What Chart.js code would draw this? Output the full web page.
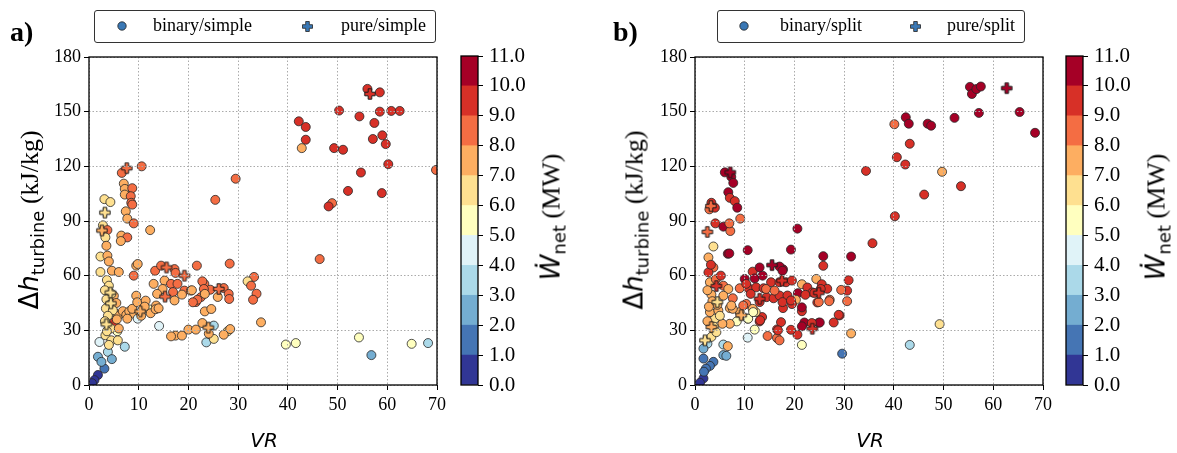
<!DOCTYPE html>
<html lang="en">
<head>
<meta charset="UTF-8">
<title>VR vs turbine enthalpy drop</title>
<script src="https://cdn.jsdelivr.net/npm/chart.js"></script>
<style>
  body { margin: 0; width: 1177px; height: 453px; background: #fff; position: relative; overflow: hidden; }
  canvas { position: absolute; top: 0; }
  .txt { position: absolute; white-space: nowrap; color: #000; font-family: 'Liberation Serif', 'Times New Roman', serif; }
  .panel { font-size: 28px; font-weight: bold; }
  .legend { position: absolute; top: 10px; height: 31px; border: 1.3px solid #333; border-radius: 3px; background: #fff; }
  .legend span { position: absolute; top: 4px; font-family: 'Liberation Serif', serif; font-size: 18px; }
  .legend svg { position: absolute; top: 10px; }
  .rot { transform: translate(-50%, -50%) rotate(-90deg); font-size: 26px; }
  .m { font-family: 'DejaVu Sans', sans-serif; }
  .sub { font-family: 'DejaVu Sans', sans-serif; font-size: 18px; position: relative; top: 6px; }
  .xt { transform: translate(-50%, -50%); font-family: 'DejaVu Sans', sans-serif; font-style: italic; font-size: 20px; }
</style>
</head>
<body>
<canvas id="chartA" width="450" height="453" style="left:0"></canvas>
<canvas id="chartB" width="450" height="453" style="left:606px"></canvas>
<canvas id="barA" width="120" height="453" style="left:440px"></canvas>
<canvas id="barB" width="120" height="453" style="left:1045px"></canvas>

<div class="txt panel" style="left:10px;top:16px">a)</div>
<div class="txt panel" style="left:613px;top:16px">b)</div>

<div class="legend" style="left:94px;width:340px">
  <svg width="10" height="10" style="left:22px"><circle cx="5" cy="5" r="4.2" fill="#3a78b5" stroke="#222" stroke-width="0.8"/></svg>
  <span style="left:58px">binary/simple</span>
  <svg width="11" height="11" style="left:207px"><path d="M3.7 0.5h3.6v3.2h3.2v3.6h-3.2v3.2h-3.6v-3.2h-3.2v-3.6h3.2z" fill="#3a78b5" stroke="#222" stroke-width="0.8"/></svg>
  <span style="left:246px">pure/simple</span>
</div>
<div class="legend" style="left:717px;width:306px">
  <svg width="10" height="10" style="left:21px"><circle cx="5" cy="5" r="4.2" fill="#3a78b5" stroke="#222" stroke-width="0.8"/></svg>
  <span style="left:62px">binary/split</span>
  <svg width="11" height="11" style="left:192px"><path d="M3.7 0.5h3.6v3.2h3.2v3.6h-3.2v3.2h-3.6v-3.2h-3.2v-3.6h3.2z" fill="#3a78b5" stroke="#222" stroke-width="0.8"/></svg>
  <span style="left:229px">pure/split</span>
</div>

<div class="txt rot" style="left:29px;top:220px"><span class="m">Δ<i>h</i></span><span class="sub">turbine</span> (kJ/kg)</div>
<div class="txt rot" style="left:634px;top:220px"><span class="m">Δ<i>h</i></span><span class="sub">turbine</span> (kJ/kg)</div>
<div class="txt rot" style="left:551px;top:217px"><span class="m"><i>W&#775;</i></span><span class="sub">net</span> (MW)</div>
<div class="txt rot" style="left:1156px;top:217px"><span class="m"><i>W&#775;</i></span><span class="sub">net</span> (MW)</div>
<div class="txt xt" style="left:264px;top:440px">VR</div>
<div class="txt xt" style="left:870px;top:440px">VR</div>

<script>
// colour classes of net power (MW), one per 1 MW band
const colorBounds = [0, 1, 2, 3, 4, 5, 6, 7, 8, 9, 10, 11];
const palette = ['#313695', '#4575b4', '#74add1', '#abd9e9', '#e0f3f8', '#ffffbf',
                 '#fee090', '#fdae61', '#f46d43', '#d73027', '#a50026'];
const xTicks = [0, 10, 20, 30, 40, 50, 60, 70];
const yTicks = [0, 30, 60, 90, 120, 150, 180];

// [VR, dh_turbine (kJ/kg), W_net (MW)]
const binarySimple = [
  [56.0,162.5,9.6],[58.5,160.6,9.5],[50.3,150.6,9.4],[58.5,150,9.7],[60.8,150.4,9.5],[62.5,150.4,9.3],
  [54.4,147.4,9.8],[42.2,144.7,9.6],[43.6,141.6,9.4],[57.4,143.8,9.5],[43.6,134.6,9.7],[59.0,137,9.6],
  [57.1,135,9.3],[59.7,132.2,9.5],[42.8,130,7.6],[49.3,130,9.4],[51.1,129.1,9.6],[60.2,121.2,9.2],
  [69.8,118,8.7],[54.7,116.6,9.5],[52.1,106.5,9.3],[58.9,105.3,9.6],[48.9,99.8,8.6],[48.2,98,9.1],
  [46.4,69.1,8.5],[29.5,113.2,8.4],[25.4,101.6,8.6],[39.6,22.2,5.5],[41.6,23,5.6],[54.3,26.1,5.7],
  [56.8,16.4,2.4],[64.9,22.6,5.4],[68.2,23,3.3],
  [10.6,120,8.5],[6.6,116.4,8.8],[7.0,110.5,7.4],[7.2,107.6,7.6],[8.7,108,8.6],[7.2,104.5,7.7],
  [8.4,103.6,8.4],[8.5,100,8.7],[8.7,99,8.3],[3.1,102,6.6],[4.3,100.4,6.8],[7.4,95.3,7.6],
  [7.7,91.3,7.5],[9.0,88.7,8.4],[12.3,85,7.8],[2.8,87.6,6.5],[3.7,85,8.2],[3.3,81,6.7],
  [6.5,82,7.6],[7.7,81,8.4],[6.4,79,7.3],[3.5,76.4,7.4],[2.3,70.5,6.6],[3.7,71,7.5],
  [4.0,67.8,7.3],[9.5,65.5,7.6],[9.8,66.4,7.5],[9.0,60,8.5],[2.3,62,6.4],[4.6,62.7,7.2],[6.0,62,7.4],
  [3.6,57.6,6.2],[4.0,54.5,6.7],[5.0,49,7.3],[5.0,40,5.6],[5.8,38,7.2],[5.1,34.5,9.5],
  [3.3,27.3,6.4],[4.5,24.5,6.5],[5.7,29.5,5.8],[5.8,24.5,6.6],[2.1,23.6,4.6],[3.8,18.2,3.6],
  [1.8,15.5,2.7],[4.6,14.2,2.5],[7.2,21,3.4],[3.1,9,1.6],[2.5,12.7,2.2],[1.8,5.5,0.6],
  [1.1,2.7,0.4],[0.6,1,0.3],
  [3.2,52,6.3],[4.5,50,6.8],[3.5,47,6.4],[4.2,44,6.6],[5.5,45,7.3],[3.4,42,6.5],[4.8,41,6.2],
  [3.8,38,6.3],[5.6,36,7.1],[3.2,35,6.6],[4.4,31,6.4],[6.0,31,7.2],[3.6,29.5,6.3],[4.0,22,6.5],
  [6.8,40.5,7.4],[7.5,38.5,7.6],
  [9.5,49,7.5],[8.1,40.4,7.4],[9.1,39,7.5],[7.7,36.4,7.3],[12.1,41.5,5.8],[9.8,36.4,4.7],
  [14.1,32.4,4.4],[13.0,55.5,7.6],[13.3,62.7,8.6],[14.5,65.5,8.4],[17.2,63.6,8.5],[21.7,65.5,8.7],
  [15.2,57.3,7.4],[16.5,55.5,8.5],[17.8,55.5,8.3],[14.8,52.7,7.5],[13.7,50,7.6],[16.9,51,8.6],
  [19.2,51.8,8.4],[20.5,51.8,7.5],[23.2,55.5,8.6],[17.2,46.4,7.6],[21.5,45.5,8.5],[13.5,43.6,7.5],
  [22.5,48.2,8.4],[8.7,41.8,7.5],[9.7,45.4,7.6],[11.4,46.3,7.4],[12.4,39.4,7.5],[13.4,41.6,7.7],
  [14.0,42.1,7.3],[11.2,43,7.4],[10.5,38,7.3],
  [28.3,66.6,8.5],[17.4,61.5,8.7],[22.8,56.9,8.5],[27.1,53.2,8.6],[28.1,50,8.4],[28.2,47.2,8.7],
  [24.4,52.3,8.5],[23.1,52.7,8.3],[25.9,48.3,7.8],[20.7,52,7.6],[18.7,49.6,7.5],[21.8,46.8,8.4],
  [20.9,45.4,8.5],[23.3,50,7.7],[23.3,40.4,7.5],[24.6,41.7,7.6],[33.2,59.3,8.5],[31.9,56.9,6.8],
  [32.6,54.5,8.6],[33.7,50.1,8.4],[33.0,46.8,8.5],[34.6,34.4,7.6],[17.4,27.1,7.5],[18.7,27.1,7.6],
  [22.8,34,7.4],[25.1,32.6,3.7],[23.6,23.4,3.6],[25.1,25.3,6.4],[24.1,28.2,7.5],[27.9,29.5,6.6],
  [28.4,30.7,7.3],[27.1,27.6,7.2],[20.0,30.4,7.4],[21.5,30.4,7.5],[16.5,26.7,7.6]
];
const pureSimple = [
  [56.5,159.7,9.5],[7.6,119,8.5],[3.2,94.6,6.5],[2.6,84.8,7.6],[15.6,64.5,8.6],[19.2,60,8.5],
  [15.3,48.5,8.5],[10.3,40.4,7.5],[4.3,50.7,6.5],[4.4,44.8,6.4],[3.5,33.3,6.6],[26.1,52.7,8.6],
  [24.0,31.5,7.5]
];
const binarySplit = [
  [55.3,163.6,10.5],[55.7,159.7,10.4],[56.6,162.4,10.6],[57.5,163.8,10.5],[52.2,146.6,10.3],
  [57.1,149.3,10.5],[65.3,149.8,10.4],[68.4,138.4,10.6],[42.4,146.9,10.5],[43.0,143.4,10.3],
  [40.1,143.1,8.6],[46.8,143.4,10.4],[47.5,142.3,10.5],[43.2,132.4,9.6],[40.6,125,9.5],
  [42.3,121,9.4],[34.4,117.5,9.6],[49.7,117,7.5],[53.5,109.1,9.5],[46.1,104.5,9.6],
  [40.2,92.6,9.2],[35.7,77.8,9.4],[49.2,33.4,6.5],[43.2,22,3.5],[29.6,17.2,1.5],
  [31.4,70.5,10.5],[25.8,70.7,10.4],[25.8,65.4,9.6],[20.6,85.8,10.5],[19.3,74.3,10.6],
  [10.6,74,10.5],[6.6,72,10.6],[30.9,57.5,9.5],[30.6,51.8,9.4],[29.4,52.2,8.6],[30.6,46,8.5],
  [29.1,38.2,9.5],[31.4,28.3,7.5],[24.4,58.2,7.6],[21.5,55.3,7.5],[27.9,34.3,9.4],[24.9,34.2,9.6],
  [22.0,34.3,10.3],[21.5,22,5.5],[20.6,27.6,9.3],[19.3,30.3,9.5],[21.5,40.5,9.6],[21.5,42.6,10.2],
  [10.6,26,4.5],[12.0,30.4,5.6],[16.5,25.8,8.6],[14.6,26.9,8.5],[16.5,30.5,9.4],[13.0,34.9,9.5],
  [13.5,37.3,9.3],[10.6,36.4,5.8],[12.2,40,6.2],[8.4,34.9,5.5],[7.0,33.6,7.4],[5.5,33.6,7.6],
  [7.0,42.2,7.5],
  [17.7,63.5,10.4],[25.5,55.3,9.5],[22.6,53.5,9.4],[23.6,50.8,9.5],[26.6,52.8,9.6],[27.1,46.8,8.6],
  [24.6,45.3,9.5],[20.7,50.4,10.4],[22.2,49.5,9.4],[20.3,46.8,7.6],[19.5,44.4,9.5],[17.7,42.2,9.6],
  [28.9,38.5,9.4],[25.1,34.3,10.3],[23.5,34,9.5],[21.5,32.2,10.4],
  [10.0,58.2,10.4],[11.6,62.2,9.5],[13.0,64.5,10.5],[12.0,58.5,10.6],[13.6,60,10.4],[17.0,65,10.5],
  [17.6,62.7,10.3],[10.8,53.1,9.5],[12.3,53.6,9.6],[13.8,53.1,9.4],[15.3,56.4,9.5],[17.0,56.4,9.4],
  [18.3,56.4,9.6],[19.5,57.3,9.5],[11.2,50,9.3],[14.4,48.2,9.5],[15.8,47.6,9.4],[17.0,49.1,9.6],
  [18.6,49.1,9.5],[14.3,52.7,8.6],[16.0,51.8,8.5],[9.0,53.1,8.6],[7.6,47.6,8.5],[17.6,45.5,9.5],
  [19.3,46.4,9.4],[10.3,44.5,8.4],[11.6,41.8,7.6],[13.0,45.5,9.3],[9.0,40,7.4],[7.6,41.8,7.5],
  [24.0,50.5,9.4],[25.3,52.7,9.5],[24.9,45.5,8.5],[27.0,46,8.6],
  [6.0,116.7,10.5],[7.3,114.2,10.6],[7.7,110.9,10.4],[6.7,105.8,10.5],[7.0,102.7,9.6],[8.0,100.9,9.4],
  [8.5,97.3,10.3],[3.3,100,9.5],[2.9,96.4,8.6],[4.0,97.3,9.4],[9.1,91.3,8.5],[4.1,88.7,9.5],
  [5.7,86.9,10.3],[7.1,84.5,8.5],[6.9,88.7,8.4],[3.7,76,6.5],[2.7,70,7.5],[6.9,72.2,10.5],
  [3.7,64.5,8.5],[2.7,61.8,9.5],[3.0,56.4,7.6],[5.7,54.5,8.6],[6.7,52.7,7.5],[3.3,49.6,7.4],
  [5.7,49,7.6],[10.3,55.5,9.5],[7.3,43.6,7.6],[9.7,43.6,8.5],[10.7,36.4,5.5],[11.7,40,5.6],
  [4.0,36.4,6.5],[3.0,40,7.5],[4.7,40.9,7.4],[3.3,26.4,6.5],[2.5,22.7,3.5],[5.7,22.2,3.6],
  [6.6,21.3,7.4],[5.7,16.4,2.5],[6.3,16,2.6],[1.7,20,2.4],[1.7,14.5,1.5],[3.7,12.7,1.6],
  [3.0,10.5,1.4],[2.2,9,1.5],[1.7,3.6,0.5],[1.8,7.3,1.3],[1.0,1.2,0.4],[17.3,34.5,9.5],
  [16.7,30,9.4],[17.0,24.5,8.6],[13.1,35.5,9.4],
  [2.5,52,7.6],[3.5,46,7.3],[4.5,44,7.2],[2.8,43,7.6],[5.0,38,6.7],[3.8,32,6.4],[4.3,29,6.6],
  [2.5,35,7.5],[4.2,58,8.5],[5.2,60,9.4],[3.2,66,9.3]
];
const pureSplit = [
  [62.7,162.9,10.5],[7.1,116.7,10.5],[3.2,98.2,8.6],[2.5,84,8.7],[15.5,65.8,10.4],[4.3,54.3,9.4],
  [4.5,45.5,6.5],[13.0,47.3,9.5],[9.3,38.3,7.5],[3.3,31.8,7.4],[2.0,24.5,6.5],[24.9,50.6,9.5],
  [23.6,30.9,9.4],[17.5,57.3,9.5]
];

const serif = "'Liberation Serif', 'Times New Roman', serif";

function binOf(w) {
  for (let i = 0; i < palette.length; i++) {
    if (w < colorBounds[i + 1]) return i;
  }
  return palette.length - 1;
}

// filled "plus" marker with a dark outline, one per colour class
function plusMark(color) {
  const c = document.createElement('canvas');
  c.width = 14; c.height = 14;
  const g = c.getContext('2d');
  const o = 7, a = 5.2, b = 1.8;
  g.beginPath();
  g.moveTo(o - b, o - a); g.lineTo(o + b, o - a); g.lineTo(o + b, o - b); g.lineTo(o + a, o - b);
  g.lineTo(o + a, o + b); g.lineTo(o + b, o + b); g.lineTo(o + b, o + a); g.lineTo(o - b, o + a);
  g.lineTo(o - b, o + b); g.lineTo(o - a, o + b); g.lineTo(o - a, o - b); g.lineTo(o - b, o - b);
  g.closePath();
  g.fillStyle = color; g.fill();
  g.lineWidth = 1; g.strokeStyle = '#1a1a1a'; g.stroke();
  return c;
}
const plusMarks = palette.map(plusMark);

// black box around the plotting area
const frame = {
  id: 'frame',
  afterDraw(chart) {
    const { ctx, chartArea: a } = chart;
    ctx.save();
    ctx.strokeStyle = '#000';
    ctx.lineWidth = 1.3;
    ctx.strokeRect(a.left, a.top, a.right - a.left, a.bottom - a.top);
    ctx.restore();
  }
};

const toPoints = rows => rows.map(r => ({ x: r[0], y: r[1], w: r[2] }));

function axisOpts(ticks, fitKey, fitSize, pad) {
  return {
    min: ticks[0], max: ticks[ticks.length - 1],
    afterBuildTicks: s => { s.ticks = ticks.map(v => ({ value: v })); },
    afterFit: s => { s[fitKey] = fitSize; },
    ticks: { color: '#000', font: { family: serif, size: 18 }, padding: pad, maxRotation: 0 },
    grid: { color: '#aaaaaa', lineWidth: 1, z: 1, tickColor: '#000', tickLength: 5, tickWidth: 1 },
    border: { display: false, dash: [1.5, 2] }
  };
}

function scatterPanel(id, binary, pure, padRight) {
  return new Chart(document.getElementById(id), {
    type: 'scatter',
    data: {
      datasets: [
        {
          label: 'pure', order: 0, data: toPoints(pure),
          pointStyle: ctx => plusMarks[binOf(ctx.raw.w)], pointRadius: 5
        },
        {
          label: 'binary', order: 1, data: toPoints(binary),
          pointRadius: 4.5, pointBorderWidth: 0.8, pointBorderColor: '#262626',
          pointBackgroundColor: ctx => palette[binOf(ctx.raw.w)]
        }
      ]
    },
    options: {
      responsive: false, animation: false, devicePixelRatio: 1,
      layout: { padding: { top: 57, right: padRight, bottom: 38, left: 0 } },
      plugins: { legend: { display: false }, tooltip: { enabled: false } },
      scales: {
        x: axisOpts(xTicks, 'height', 30, 4),
        y: axisOpts(yTicks, 'width', 89, 3)
      }
    },
    plugins: [frame]
  });
}

// discrete colour bar: one stacked segment per 1 MW class
function colorBar(id) {
  return new Chart(document.getElementById(id), {
    type: 'bar',
    data: {
      labels: [''],
      datasets: palette.map((c, i) => ({
        data: [colorBounds[i + 1] - colorBounds[i]],
        backgroundColor: c, borderWidth: 0,
        barPercentage: 1, categoryPercentage: 1
      }))
    },
    options: {
      responsive: false, animation: false, devicePixelRatio: 1,
      layout: { padding: { top: 56, right: 0, bottom: 68, left: 21 } },
      plugins: { legend: { display: false }, tooltip: { enabled: false } },
      scales: {
        x: { stacked: true, display: false },
        y: {
          stacked: true, position: 'right',
          min: colorBounds[0], max: colorBounds[colorBounds.length - 1],
          afterBuildTicks: s => { s.ticks = colorBounds.map(v => ({ value: v })); },
          afterFit: s => { s.width = 82; },
          ticks: { color: '#000', font: { family: serif, size: 21 }, padding: 6, callback: v => v.toFixed(1) },
          grid: { drawOnChartArea: false, tickColor: '#000', tickLength: 5 },
          border: { display: false }
        }
      }
    },
    plugins: [frame]
  });
}

scatterPanel('chartA', binarySimple, pureSimple, 11);
scatterPanel('chartB', binarySplit, pureSplit, 10);
colorBar('barA');
colorBar('barB');
</script>
</body>
</html>
